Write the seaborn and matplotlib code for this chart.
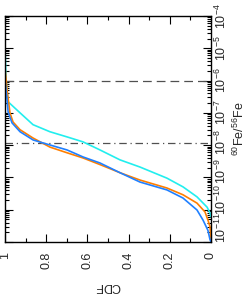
import numpy as np
import pandas as pd
import seaborn as sns
import matplotlib
matplotlib.use('Agg')
import matplotlib.pyplot as plt
from matplotlib.ticker import MultipleLocator, LogLocator, NullFormatter
from matplotlib.transforms import ScaledTranslation

# CDF of 60Fe/56Fe for three models
cdf_cyan = [1.0, 0.995, 0.985, 0.927, 0.864, 0.782, 0.699, 0.621, 0.539, 0.442,
            0.345, 0.214, 0.136, 0.068, 0.019, 0.005, 0.0]
fe_cyan = [1.1e-5, 1.05e-6, 2.2e-7, 1.0e-7, 4.3e-8, 2.6e-8, 1.8e-8, 1.26e-8, 7.1e-9, 3.5e-9,
           2.1e-9, 9.5e-10, 5.1e-10, 2.5e-10, 1.2e-10, 8e-11, 6e-11]

cdf_orange = [1.0, 0.99, 0.976, 0.961, 0.927, 0.864, 0.782, 0.699, 0.621, 0.539,
              0.442, 0.345, 0.214, 0.136, 0.068, 0.029, 0.015, 0.005, 0.0]
fe_orange = [2.5e-6, 5.1e-7, 1.0e-7, 5.2e-8, 3.0e-8, 1.66e-8, 8.7e-9, 5.8e-9, 4.0e-9, 2.5e-9,
             1.4e-9, 8.3e-10, 4.7e-10, 2.9e-10, 1.6e-10, 8.5e-11, 4.8e-11, 3.0e-11, 1.2e-11]

cdf_blue = [1.0, 0.99, 0.985, 0.966, 0.927, 0.864, 0.816, 0.699, 0.621, 0.539,
            0.442, 0.345, 0.214, 0.136, 0.068, 0.039, 0.015, 0.005, 0.0]
fe_blue = [1.05e-6, 2.5e-7, 1.07e-7, 4.9e-8, 2.6e-8, 1.45e-8, 1.17e-8, 7.1e-9, 4.3e-9, 2.8e-9,
           1.4e-9, 7.2e-10, 4.1e-10, 2.3e-10, 9.8e-11, 4.8e-11, 2.3e-11, 1.2e-11, 1.0e-11]

# reference levels
fe_dashed = 1.0e-6
fe_dashdot = 1.17e-8

cdf_ticks = [1, 0.8, 0.6, 0.4, 0.2, 0]
cdf_ticklabels = ['1', '0.8', '0.6', '0.4', '0.2', '0']
fe_ticks = [1e-11, 1e-10, 1e-9, 1e-8, 1e-7, 1e-6, 1e-5, 1e-4]

sns.set_style('ticks')
plt.rcParams['font.family'] = ['Liberation Sans', 'DejaVu Sans']
plt.rcParams['mathtext.default'] = 'regular'
plt.rcParams['font.size'] = 9

fig = plt.figure(figsize=(2.48, 2.94), dpi=100)
ax = fig.add_axes([0.0202, 0.1769, 0.8306, 0.7687])

ax.axhline(fe_dashed, color='#505050', lw=0.9, ls=(0, (7, 4)))
ax.axhline(fe_dashdot, color='#505050', lw=0.9, ls=(0, (6, 3, 1, 3)))

sns.lineplot(x=cdf_cyan, y=fe_cyan, sort=False, estimator=None, color='#22eeee', lw=1.2, ax=ax)
sns.lineplot(x=cdf_orange, y=fe_orange, sort=False, estimator=None, color='#ff7f00', lw=1.2, ax=ax)
sns.lineplot(x=cdf_blue, y=fe_blue, sort=False, estimator=None, color='#2080ff', lw=1.2, ax=ax)

ax.set_yscale('log')
ax.set_ylim(1e-11, 1e-4)
ax.set_xlim(1, 0)
ax.xaxis.set_minor_locator(MultipleLocator(0.1))
ax.set_xticks(cdf_ticks)
ax.set_xticklabels(cdf_ticklabels)
ax.set_yticks(fe_ticks)
ax.yaxis.set_minor_locator(LogLocator(base=10, subs=np.arange(2, 10), numticks=12))
ax.yaxis.set_minor_formatter(NullFormatter())

ax.tick_params(which='both', direction='in', top=True, bottom=True, left=True, right=True,
               labelleft=False, labelright=True, color='black', width=0.8)
ax.tick_params(which='major', length=6)
ax.tick_params(which='minor', length=3)
ax.tick_params(axis='x', labelrotation=90, pad=7, labelsize=9)
ax.tick_params(axis='y', labelrotation=90, pad=2, labelsize=9)

# the lower labels sit a bit above their ticks, as in the original
shift_up = [14, 10, 6, 3, 1, 0, 0, 0]
for t, dy in zip(ax.yaxis.get_major_ticks(), shift_up):
    t.label2.set_va('center')
    t.label2.set_transform(t.label2.get_transform() + ScaledTranslation(0, dy / 100, fig.dpi_scale_trans))

for s in ax.spines.values():
    s.set_linewidth(1.0)
    s.set_color('black')

ax.set_xlabel('CDF', rotation=180, labelpad=8, fontsize=9)
ax.yaxis.set_label_position('right')
ax.set_ylabel(r'$^{60}$Fe/$^{56}$Fe', rotation=90, labelpad=2, fontsize=9)

fig.savefig('out.png', dpi=100)
